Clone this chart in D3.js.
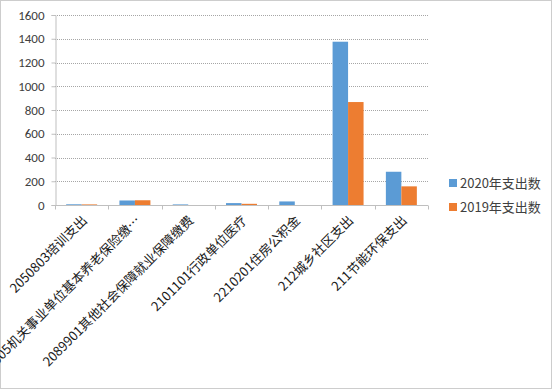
<!DOCTYPE html>
<html>
<head>
<meta charset="utf-8">
<script src="https://cdn.jsdelivr.net/npm/d3@7"></script>
<style>
body { margin: 0; background: #fff; }
svg { display: block; }
</style>
</head>
<body>
<div id="chart-area"></div>
<script>
var categories = ["2050803培训支出", "2080505机关事业单位基本养老保险缴…", "2089901其他社会保障就业保障缴费",
	"2101101行政单位医疗", "2210201住房公积金", "212城乡社区支出", "211节能环保支出"];
var seriesNames = ["2020年支出数", "2019年支出数"];
var values2020 = [6, 38, 5, 16, 30, 1375, 280];
var values2019 = [5, 40, 0, 10, 0, 867, 157];
var yTicks = [0, 200, 400, 600, 800, 1000, 1200, 1400, 1600];
var colors = ["#5b9bd5", "#ed7d31"];

var width = 554, height = 390;
var margin = {left: 55, right: 126, top: 15, bottom: 185};
var chartWidth = width - margin.left - margin.right;
var chartHeight = height - margin.top - margin.bottom;

var svg = d3.select("#chart-area").append("svg").attr("width", width).attr("height", height);

// outer frame
svg.append("rect").attr("x", 0.5).attr("y", 0.5).attr("width", width - 3).attr("height", height - 2)
	.attr("fill", "none").attr("stroke", "#9a9a9a").attr("stroke-dasharray", "1,1");

var graph = svg.append("g").attr("transform", "translate(" + margin.left + "," + margin.top + ")");

var x = d3.scaleBand().domain(categories).range([0, chartWidth]);
var xInner = d3.scaleBand().domain(seriesNames).range([0, x.bandwidth()]).paddingInner(0).paddingOuter(0.72);
var y = d3.scaleLinear().domain([0, 1600]).range([chartHeight, 0]);

// gridlines
graph.append("g").selectAll("line").data(yTicks.slice(1)).enter().append("line")
	.attr("x1", 0).attr("x2", chartWidth)
	.attr("y1", (d) => { return Math.round(y(d)) + 0.5; }).attr("y2", (d) => { return Math.round(y(d)) + 0.5; })
	.attr("stroke", "#a6a6a6").attr("stroke-dasharray", "1,1");

// y axis
var yAxis = d3.axisLeft(y).tickValues(yTicks).tickFormat(d3.format("d")).tickSize(4).tickPadding(7);
var yAxisGroup = graph.append("g").attr("transform", "translate(0.5,0)").call(yAxis);
yAxisGroup.select(".domain").attr("stroke", "#bfbfbf");
yAxisGroup.selectAll(".tick line").attr("stroke", "#bfbfbf");
yAxisGroup.selectAll("text").attr("font-family", "Carlito, 'Liberation Sans', Arial, sans-serif")
	.attr("font-size", "13px").attr("fill", "#404040");

// bars
var series = [values2020, values2019];
series.forEach((vals, s) => {
	graph.append("g").selectAll("rect").data(vals).enter().append("rect")
		.attr("x", (d, i) => { return x(categories[i]) + xInner(seriesNames[s]); })
		.attr("y", (d) => { return y(d); })
		.attr("width", xInner.bandwidth())
		.attr("height", (d) => { return chartHeight - y(d); })
		.attr("fill", colors[s]);
});

// x axis line + boundary ticks
var xAxisGroup = graph.append("g").attr("transform", "translate(0," + (chartHeight + 0.5) + ")");
xAxisGroup.append("line").attr("x1", 0).attr("x2", chartWidth).attr("stroke", "#bfbfbf");
xAxisGroup.selectAll(".bt").data(d3.range(categories.length + 1)).enter().append("line")
	.attr("x1", (d) => { return Math.round(d * x.step()) + 0.5; })
	.attr("x2", (d) => { return Math.round(d * x.step()) + 0.5; })
	.attr("y1", 0).attr("y2", 4).attr("stroke", "#bfbfbf");

// category labels
graph.append("g").selectAll("text").data(categories).enter().append("text")
	.attr("transform", (d) => { return "translate(" + (x(d) + x.bandwidth() / 2 + 3) + "," + (chartHeight + 13) + ") rotate(-45)"; })
	.attr("text-anchor", "end").attr("dy", "0.35em")
	.attr("font-family", "'Noto Sans CJK SC', sans-serif").attr("font-size", "13px").attr("fill", "#1a1a1a")
	.text((d) => { return d; });

// legend
var legend = svg.append("g").attr("transform", "translate(449,179)");
seriesNames.forEach((n, i) => {
	var row = legend.append("g").attr("transform", "translate(0," + (i * 24) + ")");
	row.append("rect").attr("width", 8).attr("height", 8).attr("fill", colors[i]);
	row.append("text").attr("x", 11).attr("y", 4).attr("dy", "0.35em")
		.attr("font-family", "'Noto Sans CJK SC', sans-serif").attr("font-size", "13px").attr("fill", "#404040")
		.text(n);
});
</script>
</body>
</html>
